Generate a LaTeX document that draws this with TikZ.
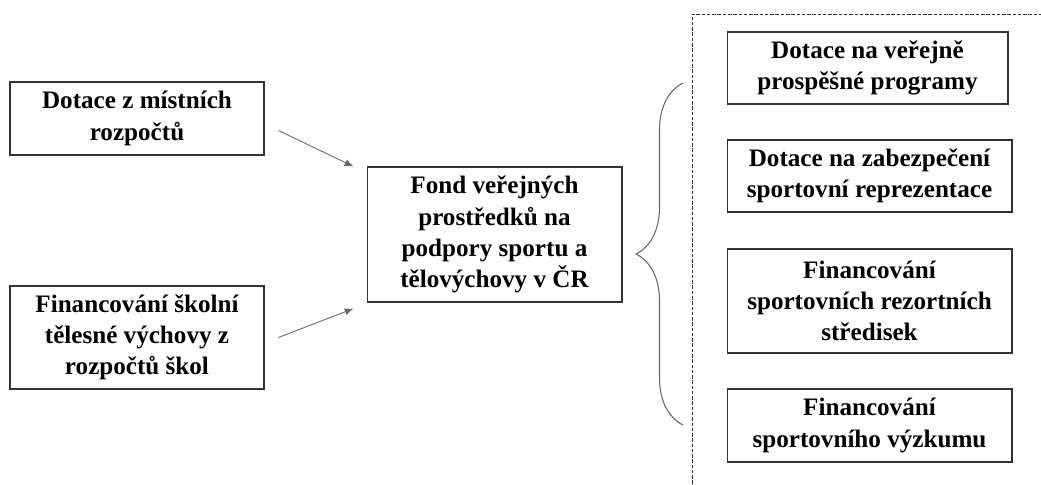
\documentclass[tikz,border=0pt]{standalone}
\usepackage{fontspec}
\setmainfont{Liberation Serif}
\usetikzlibrary{arrows.meta,calc,decorations.pathreplacing}

\tikzset{
  box/.style={draw=black!80, line width=0.6pt, align=center, inner sep=2pt,
    font=\bfseries\fontsize{14.3}{17.8}\selectfont},
  sipka/.style={draw=black!60, line width=0.5pt, -{Latex[length=5pt,width=4pt]}},
}

\begin{document}
\begin{tikzpicture}[x=0.02cm,y=-0.02cm]
\useasboundingbox (0,0) rectangle (1041,484);
% zdroje
\node[box, minimum width=5.08cm, minimum height=1.46cm] (mistni) at (137,118.5) {Dotace z místních\\rozpočtů};
\node[box, minimum width=5.08cm, minimum height=2.06cm] (skolni) at (137,337.5) {Financování školní\\tělesné výchovy z\\rozpočtů škol};
% fond
\node[box, minimum width=5.1cm, minimum height=2.7cm] (fond) at (494.5,234.5) {Fond veřejných\\prostředků na\\podpory sportu a\\tělovýchovy v ČR};
\draw[sipka] ($(mistni.east)+(14,12)$) -- ($(fond.north west)+(-13,0)$);
\draw[sipka] ($(skolni.east)+(14,0)$) -- ($(fond.south west)+(-13,6)$);
% vydaje
\node[box, minimum width=5.62cm, minimum height=1.44cm] (verejne) at (867.5,68) {Dotace na veřejně\\prospěšné programy};
\node[box, minimum width=5.7cm, minimum height=1.44cm] (reprez) at (869.5,176) {Dotace na zabezpečení\\sportovní reprezentace};
\node[box, minimum width=5.7cm, minimum height=2.08cm] (strediska) at (869.5,301) {Financování\\sportovních rezortních\\středisek};
\node[box, minimum width=5.7cm, minimum height=1.46cm] (vyzkum) at (869.5,425.5) {Financování\\sportovního výzkumu};
% zavorka a ramecek
\coordinate (zdola) at (683,425);
\coordinate (shora) at (683,83);
\draw[black!60, line width=0.6pt, decorate, decoration={brace, amplitude=0.94cm}] (zdola) -- (shora);
\draw[black!80, line width=0.5pt, dash pattern=on 2pt off 1pt] (692,484) -- (692,14) -- (1041,14);
\end{tikzpicture}
\end{document}
